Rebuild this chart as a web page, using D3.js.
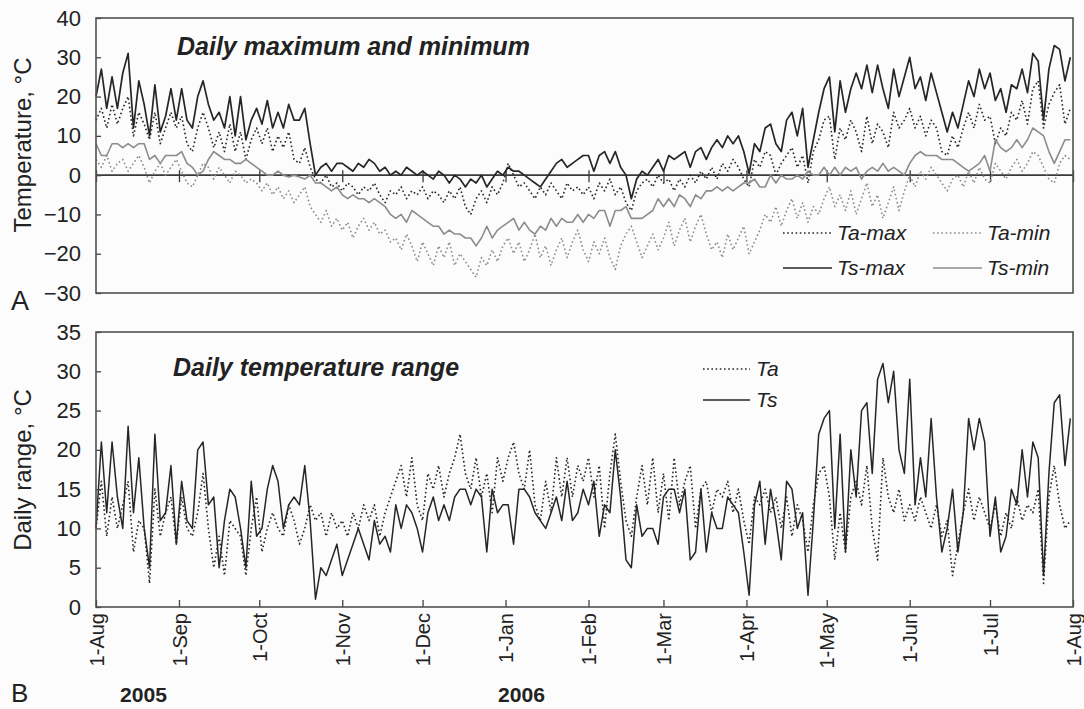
<!DOCTYPE html>
<html>
<head>
<meta charset="utf-8">
<script src="https://cdn.jsdelivr.net/npm/d3@7"></script>
<style>
  html, body { margin: 0; padding: 0; background: #fcfcfc; }
  svg { display: block; font-family: "Liberation Sans", Arial, sans-serif; }
</style>
</head>
<body>
<svg id="chart" width="1084" height="709"></svg>
<script>
// Samples every second day, 1 Aug 2005 – 31 Jul 2006 (°C)
const startDate = new Date(2005, 7, 1);
const endDate = new Date(2006, 7, 1);
const stepDays = 2;

// Soil (Ts) and air (Ta) daily maxima / minima
const tsMax = [
  20,27,17,25,17,26,31,12,24,18,10,23,11,15,22,14,      // Aug
  22,14,12,20,24,18,14,16,12,20,10,20,9,14,17,          // Sep
  13,19,12,16,12,18,14,14,17,8,0,2,3,1,3,               // Oct
  3,2,1,3,2,4,3,1,2,0,1,0,2,1,0,                        // Nov
  1,0,-1,1,0,-2,0,-1,-3,-1,-2,0,-3,-1,1,0,              // Dec
  2,1,1,0,-1,-2,-3,-1,1,3,4,2,3,4,5,                    // Jan
  5,1,5,6,3,6,2,0,-6,-1,1,0,2,4,                        // Feb
  1,5,4,5,6,2,6,7,4,7,9,7,10,8,10,6,                    // Mar
  0.4,8,6,12,13,8,6,14,16,10,17,2,9,16,22,              // Apr
  25,11,24,16,22,26,22,28,21,28,22,17,27,20,25,         // May
  30,22,25,19,26,21,16,11,16,12,18,24,20,27,22,         // Jun
  26,19,22,16,23,22,27,21,31,29,14,27,33,32,24,30       // Jul
];
const tsMin = [
  8,5,5,8,8,7,8,7,8,8,4,5,3,5,5,5,
  6,3,2,0,1,4,6,5,4,4,3,3,4,3,2,
  1,0,0,1,0,-0.5,0,-0.5,-1,0,-2,-2,-3,-4,-3,
  -5,-6,-5,-6,-6,-7,-6,-7,-8,-10,-11,-10,-12,-9,-10,
  -11,-12,-13,-13,-15,-14,-15,-15,-16,-16,-18,-16,-13,-16,-14,-13,
  -12,-11,-14,-12,-14,-15,-13,-14,-11,-13,-11,-12,-12,-10,-12,
  -10,-11,-9,-9,-13,-9,-9,-8,-11,-11,-11,-10,-9,-6,
  -8,-6,-8,-5,-6,-8,-5,-6,-4,-4,-3,-4,-3,-4,-3,-2,
  -2,-1,-3,-3,0,-2,0,-1,-1,0,-1,1,0,0,2,
  0,2,0,2,1,2,-1,1,2,1,3,1,2,1,0,
  3,5,6,5,5,5,4,4,4,3,2,1,2,3,5,
  1,9,7,6,7,9,7,9,12,11,10,6,3,6,9,9
];
const taMax = [
  14,17,12,18,13,17,20,10,16,13,9,16,8,12,16,12,
  15,8,6,12,16,12,7,11,6,13,6,11,4,9,12,
  8,12,6,10,7,11,4,3,7,2,-1,-2,0,-3,-2,
  -4,-2,-3,-5,-3,-4,-2,-5,-7,-4,-5,-3,-6,-4,-5,
  -3,-6,-4,-5,-7,-4,-6,-3,-8,-10,-6,-4,-7,-3,-5,-2,
  3,0,-3,-2,-4,-6,-3,-5,-2,-4,-6,-2,-4,-3,-5,
  -3,-6,-2,-4,-1,-5,-3,-7,-9,-4,-2,-1,-3,0,
  -2,-1,-4,-1,-3,0,-2,1,-1,2,-1,3,1,4,2,-1,
  -3,4,2,6,5,0,3,5,7,2,5,-2,6,9,14,
  15,4,12,9,14,11,6,15,8,13,11,7,16,12,14,
  17,12,15,10,14,12,6,5,10,7,12,16,12,18,14,
  15,8,12,10,16,14,19,13,22,24,12,18,21,23,13,17
];
const taMin = [
  4,2,5,1,3,4,1,3,5,2,-2,1,3,0,2,4,
  1,-2,-3,0,3,2,-1,2,0,-2,1,0,-2,-1,-2,
  -4,-2,-5,-3,-6,-4,-7,-5,-3,-8,-10,-12,-9,-13,-11,
  -14,-12,-16,-13,-11,-14,-12,-15,-14,-17,-16,-19,-15,-18,-22,
  -17,-20,-23,-18,-21,-17,-23,-20,-22,-24,-26,-21,-23,-19,-22,-18,
  -16,-20,-17,-22,-19,-15,-21,-18,-23,-19,-16,-21,-17,-14,-19,
  -22,-17,-20,-16,-21,-24,-18,-15,-13,-17,-21,-18,-15,-19,
  -16,-12,-18,-14,-11,-17,-13,-10,-15,-19,-17,-21,-15,-19,-16,-13,
  -20,-17,-14,-10,-12,-8,-13,-9,-6,-11,-7,-12,-8,-10,-6,
  -3,-8,-5,-9,-4,-10,-6,-2,-8,-5,-11,-7,-3,-9,-4,
  0,-3,1,-1,2,0,-2,-4,-1,0,-3,1,-2,2,-1,
  -2,3,1,-1,2,4,1,3,6,5,2,-1,-2,3,5,4
];

// Daily temperature range (max − min)
const tsRange = [
  10,21,12,21,14,10,23,12,19,10,5,22,11,12,18,8,
  16,11,10,20,21,13,14,5,11,15,14,10,5,16,9,
  10,15,18,16,10,13,14,13,18,11,1,5,4,6,8,
  4,6,8,10,8,6,11,8,9,7,13,10,13,12,10,
  7,12,14,11,13,11,14,15,15,13,15,14,7,15,12,13,
  13,8,15,15,14,12,11,10,12,14,11,16,11,12,15,
  13,16,9,13,12,20,14,6,5,13,9,10,10,8,
  14,15,15,12,15,6,7,15,7,12,10,10,14,13,12,7,
  1.5,13,16,8,15,11,6,16,15,10,12,1.5,11,22,24,
  25,10,22,7,20,14,25,26,17,29,31,26,30,20,17,
  29,13,19,14,24,14,7,10,15,7,12,24,20,24,21,
  9,14,7,9,15,13,20,14,21,19,4,17,26,27,18,24
];
const taRange = [
  10,16,9,14,10,13,16,7,11,10,3,15,9,12,14,8,
  14,10,9,12,17,10,5,9,4,11,10,9,4,10,14,
  7,10,12,10,9,13,11,8,10,13,11,12,9,12,10,
  11,9,12,10,13,11,13,9,12,14,16,18,14,19,13,
  11,17,15,18,14,17,19,22,17,15,19,14,17,12,19,16,
  19,21,17,15,20,13,11,16,12,19,14,19,14,18,16,
  19,14,18,10,17,22,16,11,9,14,18,13,19,12,
  17,11,19,13,16,18,10,15,16,12,15,14,16,12,15,11,
  8,14,13,15,12,14,10,14,9,13,11,7,13,17,18,
  14,6,12,7,14,16,13,18,10,6,19,14,12,15,11,
  13,11,14,12,10,13,9,11,4,8,12,15,11,14,12,
  10,13,9,12,10,14,11,13,12,15,3,14,18,13,10,11
];

// Axis ticks and labels
const monthTicks = [
  new Date(2005,7,1), new Date(2005,8,1), new Date(2005,9,1), new Date(2005,10,1),
  new Date(2005,11,1), new Date(2006,0,1), new Date(2006,1,1), new Date(2006,2,1),
  new Date(2006,3,1), new Date(2006,4,1), new Date(2006,5,1), new Date(2006,6,1),
  new Date(2006,7,1)
];
const monthLabels = ["1-Aug","1-Sep","1-Oct","1-Nov","1-Dec","1-Jan","1-Feb",
                     "1-Mar","1-Apr","1-May","1-Jun","1-Jul","1-Aug"];
const tempTicks = [-30,-20,-10,0,10,20,30,40];
const rangeTicks = [0,5,10,15,20,25,30,35];

const svg = d3.select("#chart");
const ink = "#262626";
const grey = "#8c8c8c";

const x = d3.scaleTime().domain([startDate, endDate]).range([96, 1073]);
const yA = d3.scaleLinear().domain([-30, 40]).range([293, 18]);
const yB = d3.scaleLinear().domain([0, 35]).range([607, 332]);

const n = Math.min(tsMax.length, tsMin.length, taMax.length, taMin.length, tsRange.length, taRange.length);
const dates = d3.range(n).map(i => d3.timeDay.offset(startDate, i * stepDays));

function series(values) { return values.slice(0, n).map((v, i) => ({ date: dates[i], v })); }

function drawLine(g, values, yScale, color, width, dash) {
  const line = d3.line().x(d => x(d.date)).y(d => yScale(d.v));
  g.append("path")
    .datum(series(values))
    .attr("fill", "none")
    .attr("stroke", color)
    .attr("stroke-width", width)
    .attr("stroke-linejoin", "round")
    .attr("stroke-dasharray", dash || null)
    .attr("d", line);
}

function styleAxis(g) {
  g.select(".domain").remove();
  g.selectAll(".tick line").attr("stroke", "#444").attr("stroke-width", 1.3);
  g.selectAll("text").attr("fill", "#222").style("font-size", "22px");
}

// ---------- Panel A: daily maximum and minimum ----------
const gA = svg.append("g");

// zero line
gA.append("line")
  .attr("x1", x.range()[0]).attr("x2", x.range()[1])
  .attr("y1", yA(0)).attr("y2", yA(0))
  .attr("stroke", "#3a3a3a").attr("stroke-width", 1.6);

// month ticks crossing the zero line
const ax0 = gA.append("g").attr("transform", `translate(0,${yA(0)})`)
  .call(d3.axisBottom(x).tickValues(monthTicks).tickSizeInner(7).tickSizeOuter(0).tickFormat(""));
ax0.select(".domain").remove();
ax0.selectAll(".tick line").attr("y1", -5).attr("stroke", "#3a3a3a").attr("stroke-width", 1.3);

drawLine(gA, taMin, yA, grey, 1.6, "1.6,2.6");
drawLine(gA, taMax, yA, ink, 1.6, "1.6,2.6");
drawLine(gA, tsMin, yA, grey, 1.6);
drawLine(gA, tsMax, yA, ink, 1.7);

const ayA = gA.append("g").attr("transform", `translate(${x.range()[0]},0)`)
  .call(d3.axisLeft(yA).tickValues(tempTicks).tickSizeInner(-5).tickSizeOuter(0).tickPadding(15));
styleAxis(ayA);

gA.append("rect")
  .attr("x", x.range()[0]).attr("y", yA.range()[1])
  .attr("width", x.range()[1] - x.range()[0]).attr("height", yA.range()[0] - yA.range()[1])
  .attr("fill", "none").attr("stroke", "#505050").attr("stroke-width", 1.6);

gA.append("text").attr("x", 177).attr("y", 55)
  .style("font-size", "25px").style("font-weight", "bold").style("font-style", "italic")
  .attr("fill", "#222").text("Daily maximum and minimum");

gA.append("text")
  .attr("transform", "translate(31,145) rotate(-90)")
  .attr("text-anchor", "middle").style("font-size", "24px").attr("fill", "#222")
  .text("Temperature, °C");

gA.append("text").attr("x", 11).attr("y", 310)
  .style("font-size", "27px").attr("fill", "#222").text("A");

// legend A
const legendA = [
  { name: "Ta-max", color: ink,  dash: "1.6,2.6", x: 783, y: 233 },
  { name: "Ta-min", color: grey, dash: "1.6,2.6", x: 933, y: 233 },
  { name: "Ts-max", color: ink,  dash: null,      x: 783, y: 268 },
  { name: "Ts-min", color: grey, dash: null,      x: 933, y: 268 }
];
legendA.forEach(d => {
  gA.append("line").attr("x1", d.x).attr("x2", d.x + 49).attr("y1", d.y).attr("y2", d.y)
    .attr("stroke", d.color).attr("stroke-width", 1.6).attr("stroke-dasharray", d.dash);
  gA.append("text").attr("x", d.x + 54).attr("y", d.y + 7)
    .style("font-size", "21px").style("font-style", "italic").attr("fill", "#222").text(d.name);
});

// ---------- Panel B: daily temperature range ----------
const gB = svg.append("g");

drawLine(gB, taRange, yB, ink, 1.6, "1.6,2.6");
drawLine(gB, tsRange, yB, ink, 1.5);

const axB = gB.append("g").attr("transform", `translate(0,${yB(0)})`)
  .call(d3.axisBottom(x).tickValues(monthTicks).tickSizeInner(-7).tickSizeOuter(0).tickPadding(6)
    .tickFormat((d, i) => monthLabels[i]));
axB.select(".domain").remove();
axB.selectAll(".tick line").attr("stroke", "#444").attr("stroke-width", 1.3);
axB.selectAll("text")
  .attr("fill", "#222").style("font-size", "20px")
  .attr("text-anchor", "end")
  .attr("transform", "rotate(-90)")
  .attr("x", -6).attr("y", 0).attr("dy", "0.36em");

const ayB = gB.append("g").attr("transform", `translate(${x.range()[0]},0)`)
  .call(d3.axisLeft(yB).tickValues(rangeTicks).tickSizeInner(-5).tickSizeOuter(0).tickPadding(15));
styleAxis(ayB);

gB.append("rect")
  .attr("x", x.range()[0]).attr("y", yB.range()[1])
  .attr("width", x.range()[1] - x.range()[0]).attr("height", yB.range()[0] - yB.range()[1])
  .attr("fill", "none").attr("stroke", "#505050").attr("stroke-width", 1.6);

gB.append("text").attr("x", 173).attr("y", 376)
  .style("font-size", "25px").style("font-weight", "bold").style("font-style", "italic")
  .attr("fill", "#222").text("Daily temperature range");

gB.append("text")
  .attr("transform", "translate(31,470) rotate(-90)")
  .attr("text-anchor", "middle").style("font-size", "24px").attr("fill", "#222")
  .text("Daily range, °C");

const legendB = [
  { name: "Ta", dash: "1.6,2.6", y: 369 },
  { name: "Ts", dash: null,      y: 400 }
];
legendB.forEach(d => {
  gB.append("line").attr("x1", 703).attr("x2", 750).attr("y1", d.y).attr("y2", d.y)
    .attr("stroke", ink).attr("stroke-width", 1.6).attr("stroke-dasharray", d.dash);
  gB.append("text").attr("x", 756).attr("y", d.y + 7)
    .style("font-size", "21px").style("font-style", "italic").attr("fill", "#222").text(d.name);
});

gB.append("text").attr("x", 11).attr("y", 702)
  .style("font-size", "26px").attr("fill", "#222").text("B");

// year captions
[{ t: "2005", x: 120 }, { t: "2006", x: 498 }].forEach(d => {
  svg.append("text").attr("x", d.x).attr("y", 702)
    .style("font-size", "21px").style("font-weight", "bold").attr("fill", "#222")
    .attr("textLength", 47).attr("lengthAdjust", "spacingAndGlyphs").text(d.t);
});
</script>
</body>
</html>
